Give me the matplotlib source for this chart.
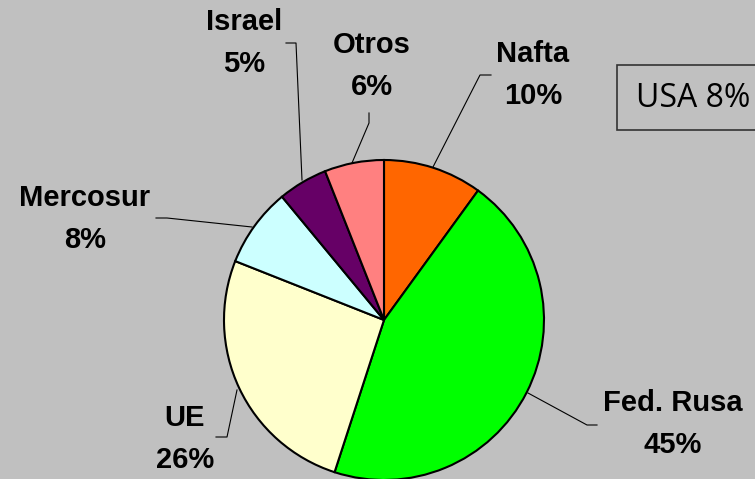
import matplotlib.pyplot as plt

# Data
labels = ["Nafta", "Fed. Rusa", "UE", "Mercosur", "Israel", "Otros"]
shares = [10, 45, 26, 8, 5, 6]
colors = ["#FF6600", "#00FF00", "#FFFFCC", "#CCFFFF", "#660066", "#FF8080"]

W, H = 755, 479
bg = "#C0C0C0"

fig = plt.figure(figsize=(W / 100, H / 100), dpi=100, facecolor=bg)
ax = fig.add_axes([0, 0, 1, 1])
ax.set_facecolor(bg)

# pie, center at pixel (384, 320), radius 160
cx, cy, r = 384, H - 320, 160
ax.pie(shares, colors=colors, startangle=90, counterclock=False,
       center=(cx, cy), radius=r, frame=True,
       wedgeprops=dict(edgecolor="black", linewidth=1.5))
ax.set_xlim(0, W)
ax.set_ylim(0, H)
ax.set_aspect("equal")
ax.axis("off")

# label positions (pixel coords, top-left origin) and leader lines
label_pos = [(533, 54), (673, 403), (185, 418), (85, 198), (244, 22), (372, 45)]
leaders = [
    [(433, 167), (480, 75), (491, 75)],
    [(528, 393), (587, 425), (597, 425)],
    [(237, 390), (227, 437), (216, 437)],
    [(252, 227), (167, 218), (156, 218)],
    [(302, 180), (296, 43), (286, 43)],
    [(352, 163), (369, 123), (369, 113)],
]

for lab, val, (x, y), pts in zip(labels, shares, label_pos, leaders):
    ax.text(x, H - y, lab, ha="center", va="center", fontsize=21,
            fontweight="bold", family="Liberation Sans")
    ax.text(x, H - y - 42, f"{val}%", ha="center", va="center", fontsize=21,
            fontweight="bold", family="Liberation Sans")
    xs = [p[0] for p in pts]
    ys = [H - p[1] for p in pts]
    ax.plot(xs, ys, color="black", linewidth=0.8)

# USA box
ax.add_patch(plt.Rectangle((617, H - 130), 150, 65, facecolor=bg,
                           edgecolor="#333333", linewidth=1.2, clip_on=False))
ax.text(636, H - 98, "USA 8%", ha="left", va="center", fontsize=23,
        family="Open Sans")

fig.savefig("out.png", dpi=100, facecolor=bg)
